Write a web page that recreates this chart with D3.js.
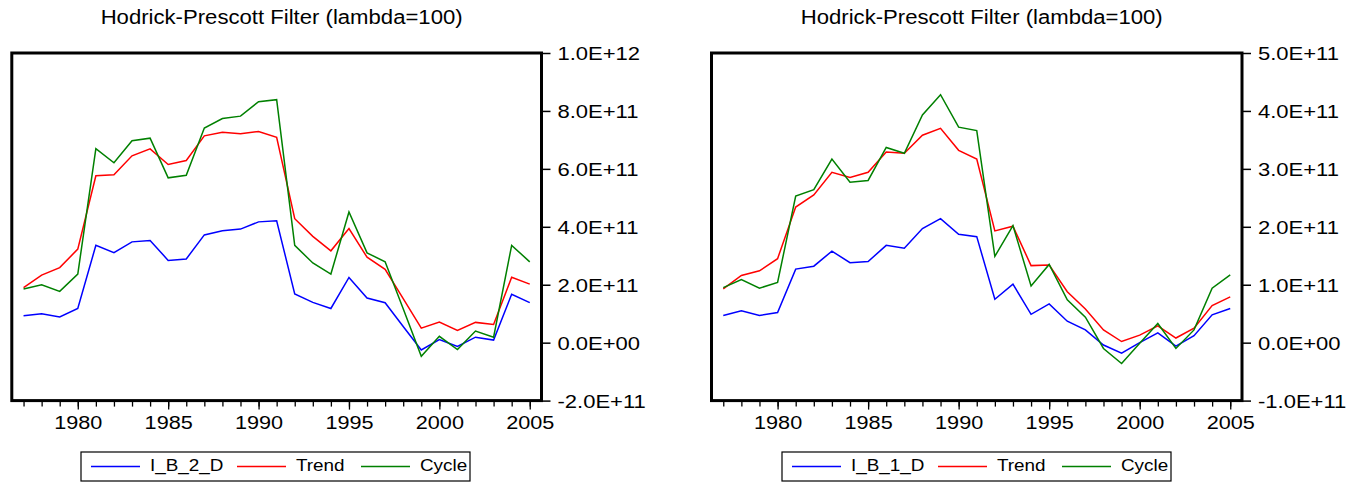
<!DOCTYPE html>
<html>
<head>
<meta charset="utf-8">
<script src="https://cdn.jsdelivr.net/npm/d3@7"></script>
<style>
  body { margin: 0; background: #fff; }
  text { font-family: "Liberation Sans", Arial, sans-serif; fill: #000; }
</style>
</head>
<body>
<div id="chart"></div>
<script>
// years on the x axis
const years = [1977, 1978, 1979, 1980, 1981, 1982, 1983, 1984, 1985, 1986,
  1987, 1988, 1989, 1990, 1991, 1992, 1993, 1994, 1995, 1996,
  1997, 1998, 1999, 2000, 2001, 2002, 2003, 2004, 2005];
const yearLabels = [1980, 1985, 1990, 1995, 2000, 2005];

// left panel, values in units of 1E+11
const ib2d = [0.93, 1.00, 0.89, 1.18, 3.36, 3.11, 3.48, 3.53, 2.84, 2.89,
  3.72, 3.86, 3.92, 4.17, 4.21, 1.68, 1.39, 1.18, 2.25, 1.54,
  1.38, 0.56, -0.25, 0.11, -0.13, 0.19, 0.09, 1.67, 1.38];
const trend2 = [1.90, 2.33, 2.59, 3.23, 5.76, 5.80, 6.45, 6.69, 6.15, 6.29,
  7.14, 7.26, 7.21, 7.29, 7.09, 4.28, 3.67, 3.17, 3.94, 2.95,
  2.53, 1.52, 0.50, 0.71, 0.42, 0.70, 0.63, 2.26, 2.02];
const cycle2 = [1.85, 2.00, 1.77, 2.37, 6.70, 6.21, 6.97, 7.06, 5.69, 5.78,
  7.41, 7.74, 7.82, 8.32, 8.39, 3.36, 2.75, 2.37, 4.51, 3.10,
  2.79, 1.17, -0.47, 0.22, -0.24, 0.40, 0.19, 3.36, 2.79];
const ticks2 = [-2, 0, 2, 4, 6, 8, 10];

// right panel, values in units of 1E+11
const ib1d = [0.47, 0.55, 0.47, 0.52, 1.27, 1.32, 1.58, 1.38, 1.40, 1.68,
  1.63, 1.97, 2.14, 1.87, 1.83, 0.75, 1.01, 0.49, 0.67, 0.37,
  0.22, -0.04, -0.18, 0.00, 0.17, -0.06, 0.12, 0.48, 0.59];
const trend1 = [0.93, 1.16, 1.24, 1.45, 2.34, 2.55, 2.94, 2.85, 2.94, 3.29,
  3.27, 3.58, 3.70, 3.32, 3.17, 1.93, 2.01, 1.33, 1.34, 0.88,
  0.58, 0.22, 0.02, 0.13, 0.29, 0.08, 0.25, 0.64, 0.79];
const cycle1 = [0.95, 1.09, 0.94, 1.04, 2.53, 2.64, 3.17, 2.77, 2.80, 3.37,
  3.27, 3.93, 4.28, 3.72, 3.66, 1.49, 2.02, 0.98, 1.35, 0.74,
  0.44, -0.10, -0.36, -0.01, 0.33, -0.10, 0.22, 0.94, 1.17];
const ticks1 = [-1, 0, 1, 2, 3, 4, 5];

const UNIT = 1e11;
const title = "Hodrick-Prescott Filter (lambda=100)";

const panels = [
  { left: 11.8, right: 541.5, top: 53, bottom: 400.6, yDomain: [-2, 10], ticks: ticks2,
    names: ["I_B_2_D", "Trend", "Cycle"], series: [ib2d, trend2, cycle2], legendX: 81 },
  { left: 711.5, right: 1242, top: 53, bottom: 400.6, yDomain: [-1, 5], ticks: ticks1,
    names: ["I_B_1_D", "Trend", "Cycle"], series: [ib1d, trend1, cycle1], legendX: 782 }
];
const colors = ["#0000ff", "#ff0000", "#008000"];

// EViews style 1.0E+12 labels
function sci(v) {
  const d = v * UNIT;
  if (d === 0) return "0.0E+00";
  const e = Math.floor(Math.log10(Math.abs(d)));
  const m = d / Math.pow(10, e);
  return m.toFixed(1) + "E+" + String(e).padStart(2, "0");
}

const svg = d3.select("#chart").append("svg")
  .attr("width", 1352)
  .attr("height", 482);

panels.forEach(p => {
  const g = svg.append("g");
  const x = d3.scaleLinear().domain([1976.35, 2005.65]).range([p.left, p.right]);
  const y = d3.scaleLinear().domain(p.yDomain).range([p.bottom, p.top]);

  // title
  g.append("text")
    .attr("x", (p.left + p.right) / 2 + 5)
    .attr("y", 24)
    .attr("text-anchor", "middle")
    .attr("font-size", "20px")
    .attr("textLength", 362)
    .attr("lengthAdjust", "spacingAndGlyphs")
    .text(title);

  // right axis
  const rightAxis = d3.axisRight(y).tickValues(p.ticks).tickSize(9).tickPadding(7).tickFormat(sci);
  const ra = g.append("g").attr("transform", `translate(${p.right},0)`).call(rightAxis);
  ra.select(".domain").remove();
  ra.selectAll(".tick line").attr("stroke", "#000").attr("stroke-width", 1.5);
  ra.selectAll(".tick text")
    .attr("font-size", "18.5px")
    .attr("font-family", "Liberation Sans, Arial, sans-serif")
    .attr("fill", "#000")
    .attr("dy", "0.36em")
    .attr("transform", "scale(1.19,1)")
    .attr("x", 16 / 1.19);

  // bottom axis: every year ticked, five-year labels
  const minor = d3.axisBottom(x).tickValues(years).tickSize(6).tickFormat("");
  const mi = g.append("g").attr("transform", `translate(0,${p.bottom})`).call(minor);
  mi.select(".domain").remove();
  mi.selectAll(".tick line").attr("stroke", "#000").attr("stroke-width", 1.3);

  const major = d3.axisBottom(x).tickValues(yearLabels).tickSize(9).tickFormat(d3.format("d"));
  const ma = g.append("g").attr("transform", `translate(0,${p.bottom})`).call(major);
  ma.select(".domain").remove();
  ma.selectAll(".tick line").attr("stroke", "#000").attr("stroke-width", 1.3);
  ma.selectAll(".tick text")
    .attr("font-size", "19px")
    .attr("font-family", "Liberation Sans, Arial, sans-serif")
    .attr("fill", "#000")
    .attr("y", 0)
    .attr("dy", 0)
    .attr("transform", "translate(0,28.7) scale(1.14,1)");

  // series lines
  const line = d3.line().x((d, i) => x(years[i])).y(d => y(d));
  p.series.forEach((s, k) => {
    g.append("path")
      .datum(s)
      .attr("fill", "none")
      .attr("stroke", colors[k])
      .attr("stroke-width", 1.5)
      .attr("stroke-linejoin", "miter")
      .attr("d", line);
  });

  // frame
  g.append("rect")
    .attr("x", p.left)
    .attr("y", p.top)
    .attr("width", p.right - p.left)
    .attr("height", p.bottom - p.top)
    .attr("fill", "none")
    .attr("stroke", "#000")
    .attr("stroke-width", 3);

  // legend
  const lg = g.append("g").attr("transform", `translate(${p.legendX},452)`);
  lg.append("rect")
    .attr("x", 0).attr("y", 0)
    .attr("width", 389).attr("height", 29)
    .attr("fill", "#fff")
    .attr("stroke", "#000")
    .attr("stroke-width", 1.2);
  const slots = [10, 156, 280];
  p.names.forEach((name, k) => {
    lg.append("line")
      .attr("x1", slots[k]).attr("x2", slots[k] + 49)
      .attr("y1", 14.5).attr("y2", 14.5)
      .attr("stroke", colors[k])
      .attr("stroke-width", 1.5);
    lg.append("text")
      .attr("transform", `translate(${slots[k] + 59},19) scale(1.18,1)`)
      .attr("font-size", "16px")
      .text(name);
  });
});
</script>
</body>
</html>
